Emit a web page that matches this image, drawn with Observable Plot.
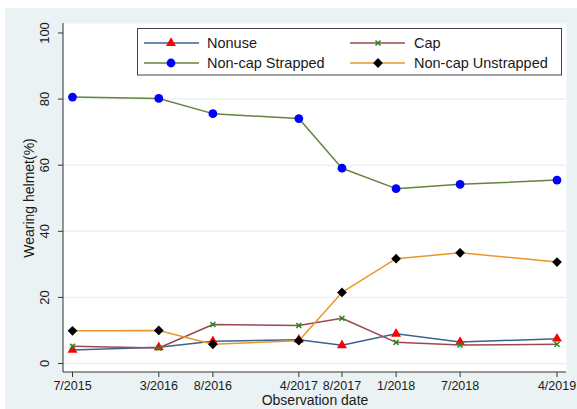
<!DOCTYPE html>
<html><head><meta charset="utf-8">
<script src="https://cdn.jsdelivr.net/npm/d3@7"></script>
<script src="https://cdn.jsdelivr.net/npm/@observablehq/plot@0.6"></script>
<style>
html,body{margin:0;padding:0;background:#fff;}
#chart{position:absolute;left:5px;top:8px;}
</style></head><body><div id="chart"></div>
<script>
// ---- data ----
const dateKeys = ["2015-07-01","2016-03-01","2016-08-01","2017-04-01","2017-08-01","2018-01-01","2018-07-01","2019-04-01"];
const tickLabels = ["7/2015","3/2016","8/2016","4/2017","8/2017","1/2018","7/2018","4/2019"];
const nonuse     = [4.1, 4.9, 6.7, 7.2, 5.5, 9.0, 6.5, 7.5];
const cap        = [5.2, 4.7, 11.8, 11.5, 13.7, 6.4, 5.6, 5.8];
const strapped   = [80.6, 80.2, 75.6, 74.1, 59.1, 52.9, 54.2, 55.5];
const unstrapped = [9.9, 10.0, 5.8, 6.9, 21.5, 31.7, 33.5, 30.7];
const yTicks = [0, 20, 40, 60, 80, 100];
const gridTicks = [0, 20, 40, 60, 80];
const seriesNames = ["Nonuse", "Cap", "Non-cap Strapped", "Non-cap Unstrapped"];
const xTitle = "Observation date";
const yTitle = "Wearing helmet(%)";

// ---- styling ----
const BG = "#eaf2f3";
const FONT = "'Liberation Sans', Arial, Helvetica, sans-serif";
const styles = [
  {line: "#3d6391", symbol: "triangle", fill: "#ff0000", stroke: "none", r: 3.7, sw: 0},
  {line: "#9c4850", symbol: "times", fill: "none", stroke: "#1c8c1c", r: 2.4, sw: 1.5},
  {line: "#64833f", symbol: "circle", fill: "#0000ff", stroke: "none", r: 4.4, sw: 0},
  {line: "#eb9628", symbol: "diamond2", fill: "#000000", stroke: "none", r: 4.4, sw: 0}
];

const dates = dateKeys.map(d => new Date(d + "T00:00:00Z"));
const seriesValues = [nonuse, cap, strapped, unstrapped];
const table = seriesValues.map((vals, s) => vals.map((v, i) => ({date: dates[i], value: v, series: seriesNames[s]})));

const W = 572, H = 401;
const mL = 58, mR = 11, mT = 15, mB = 37;

const seriesMarks = table.flatMap((rows, s) => {
  const st = styles[s];
  return [
    Plot.line(rows, {x: "date", y: "value", stroke: st.line, strokeWidth: 1.5}),
    Plot.dot(rows, {x: "date", y: "value", symbol: () => st.symbol, r: st.r,
      fill: st.fill, stroke: st.stroke, strokeWidth: st.sw})
  ];
});

const plot = Plot.plot({
  width: W, height: H,
  marginLeft: mL, marginRight: mR, marginTop: mT, marginBottom: mB,
  style: {background: BG, fontFamily: FONT, color: "#1a1a1a", overflow: "visible"},
  x: {type: "utc", range: [67, 551.5]},
  y: {domain: [0, 100], range: [355, 24.5]},
  symbol: {type: "identity"},
  marks: [
    Plot.frame({fill: "white", stroke: null}),
    Plot.ruleY(gridTicks, {stroke: BG, strokeWidth: 1.5}),
    Plot.axisX({ticks: dates, tickFormat: d => tickLabels[dates.findIndex(t => +t === +d)],
      tickSize: 5, tickPadding: 4, fontSize: 12.5, label: null, stroke: "#333", fill: "#1a1a1a"}),
    Plot.axisY({ticks: yTicks, tickSize: 5, tickFormat: () => "", label: null, stroke: "#333"}),
    Plot.text(yTicks, {y: d => d, text: d => String(d), frameAnchor: "left", dx: -19,
      rotate: -90, textAnchor: "middle", lineAnchor: "middle", fontSize: 13, fill: "#1a1a1a"}),
    Plot.text([yTitle], {text: d => d, frameAnchor: "left", dx: -34.3, rotate: -90,
      textAnchor: "middle", lineAnchor: "middle", fontSize: 14, fill: "#1a1a1a"}),
    Plot.text([xTitle], {text: d => d, frameAnchor: "bottom", dy: 28,
      textAnchor: "middle", lineAnchor: "middle", fontSize: 14, fill: "#1a1a1a"}),
    ...seriesMarks
  ]
});

document.getElementById("chart").appendChild(plot);

// axis lines
const svg = d3.select(plot);
svg.append("line").attr("x1", mL).attr("x2", mL).attr("y1", mT).attr("y2", H - mB)
  .attr("stroke", "#333").attr("stroke-width", 1);
svg.append("line").attr("x1", mL).attr("x2", W - mR).attr("y1", H - mB).attr("y2", H - mB)
  .attr("stroke", "#333").attr("stroke-width", 1);

// legend
const symMap = {triangle: d3.symbolTriangle, times: d3.symbolTimes, circle: d3.symbolCircle, diamond2: d3.symbolDiamond2};
const lg = svg.append("g").attr("font-family", FONT).attr("font-size", 14.5).attr("text-anchor", "start");
lg.append("rect").attr("x", 132.5).attr("y", 20.5).attr("width", 424).attr("height", 46.5)
  .attr("fill", "white").attr("stroke", "#444").attr("stroke-width", 1);
const cols = [{x0: 139, x1: 194, mx: 166, tx: 202}, {x0: 345, x1: 400, mx: 373, tx: 409}];
const rows = [35, 55];
seriesNames.forEach((name, s) => {
  const c = cols[s % 2], yy = rows[Math.floor(s / 2)], st = styles[s];
  lg.append("line").attr("x1", c.x0).attr("x2", c.x1).attr("y1", yy).attr("y2", yy)
    .attr("stroke", st.line).attr("stroke-width", 1.5);
  lg.append("path").attr("d", d3.symbol(symMap[st.symbol], Math.PI * st.r * st.r)())
    .attr("transform", `translate(${c.mx},${yy})`)
    .attr("fill", st.fill).attr("stroke", st.stroke).attr("stroke-width", st.sw);
  lg.append("text").attr("x", c.tx).attr("y", yy).attr("dy", "0.35em")
    .attr("text-anchor", "start").attr("fill", "#1a1a1a").text(name);
});
</script></body></html>
